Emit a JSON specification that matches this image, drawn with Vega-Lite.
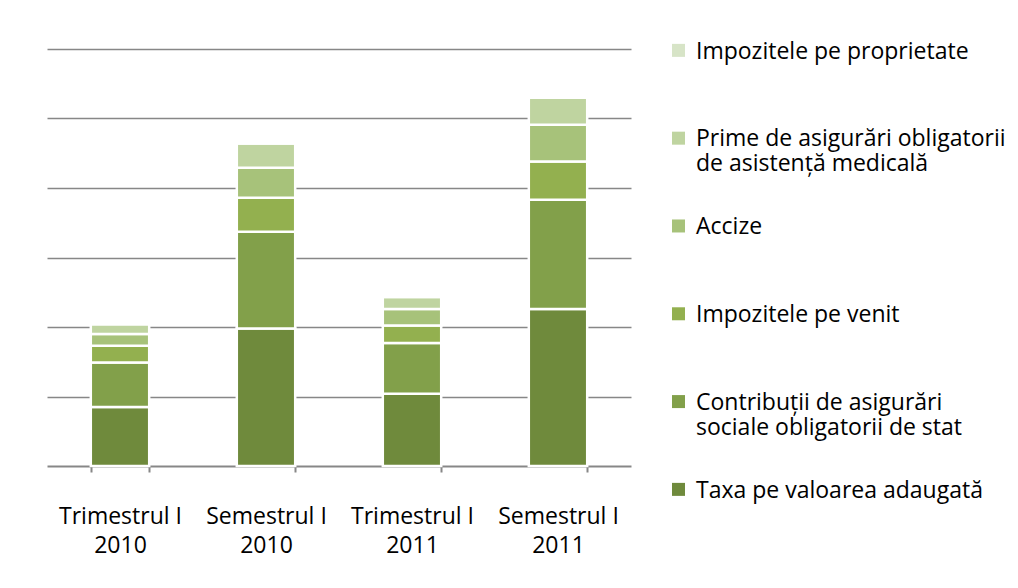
{
  "$schema": "https://vega.github.io/schema/vega-lite/v6.json",
  "width": 584,
  "height": 417,
  "autosize": {"type": "none"},
  "padding": {"left": 47, "top": 49, "right": 387, "bottom": 122},
  "background": "white",
  "data": {
    "values": [
      {"perioada": "Trimestrul I 2010", "categorie": "Taxa pe valoarea adaugată", "ordine": 1, "valoare": 0.85},
      {"perioada": "Trimestrul I 2010", "categorie": "Contribuții de asigurări sociale obligatorii de stat", "ordine": 2, "valoare": 0.64},
      {"perioada": "Trimestrul I 2010", "categorie": "Impozitele pe venit", "ordine": 3, "valoare": 0.24},
      {"perioada": "Trimestrul I 2010", "categorie": "Accize", "ordine": 4, "valoare": 0.17},
      {"perioada": "Trimestrul I 2010", "categorie": "Prime de asigurări obligatorii de asistență medicală", "ordine": 5, "valoare": 0.14},
      {"perioada": "Trimestrul I 2010", "categorie": "Impozitele pe proprietate", "ordine": 6, "valoare": 0.02},
      {"perioada": "Semestrul I 2010", "categorie": "Taxa pe valoarea adaugată", "ordine": 1, "valoare": 1.98},
      {"perioada": "Semestrul I 2010", "categorie": "Contribuții de asigurări sociale obligatorii de stat", "ordine": 2, "valoare": 1.39},
      {"perioada": "Semestrul I 2010", "categorie": "Impozitele pe venit", "ordine": 3, "valoare": 0.49},
      {"perioada": "Semestrul I 2010", "categorie": "Accize", "ordine": 4, "valoare": 0.43},
      {"perioada": "Semestrul I 2010", "categorie": "Prime de asigurări obligatorii de asistență medicală", "ordine": 5, "valoare": 0.35},
      {"perioada": "Semestrul I 2010", "categorie": "Impozitele pe proprietate", "ordine": 6, "valoare": 0.02},
      {"perioada": "Trimestrul I 2011", "categorie": "Taxa pe valoarea adaugată", "ordine": 1, "valoare": 1.04},
      {"perioada": "Trimestrul I 2011", "categorie": "Contribuții de asigurări sociale obligatorii de stat", "ordine": 2, "valoare": 0.73},
      {"perioada": "Trimestrul I 2011", "categorie": "Impozitele pe venit", "ordine": 3, "valoare": 0.25},
      {"perioada": "Trimestrul I 2011", "categorie": "Accize", "ordine": 4, "valoare": 0.24},
      {"perioada": "Trimestrul I 2011", "categorie": "Prime de asigurări obligatorii de asistență medicală", "ordine": 5, "valoare": 0.17},
      {"perioada": "Trimestrul I 2011", "categorie": "Impozitele pe proprietate", "ordine": 6, "valoare": 0.02},
      {"perioada": "Semestrul I 2011", "categorie": "Taxa pe valoarea adaugată", "ordine": 1, "valoare": 2.26},
      {"perioada": "Semestrul I 2011", "categorie": "Contribuții de asigurări sociale obligatorii de stat", "ordine": 2, "valoare": 1.57},
      {"perioada": "Semestrul I 2011", "categorie": "Impozitele pe venit", "ordine": 3, "valoare": 0.55},
      {"perioada": "Semestrul I 2011", "categorie": "Accize", "ordine": 4, "valoare": 0.53},
      {"perioada": "Semestrul I 2011", "categorie": "Prime de asigurări obligatorii de asistență medicală", "ordine": 5, "valoare": 0.39},
      {"perioada": "Semestrul I 2011", "categorie": "Impozitele pe proprietate", "ordine": 6, "valoare": 0.02}
    ]
  },
  "mark": {"type": "bar", "stroke": "white", "strokeWidth": 2.5},
  "encoding": {
    "x": {
      "field": "perioada",
      "type": "nominal",
      "sort": ["Trimestrul I 2010", "Semestrul I 2010", "Trimestrul I 2011", "Semestrul I 2011"],
      "scale": {"paddingInner": 0.6, "paddingOuter": 0.3},
      "axis": {
        "title": null,
        "labelAngle": 0,
        "labelExpr": "[slice(datum.label, 0, -5), slice(datum.label, -4)]",
        "labelFont": "Open Sans",
        "labelFontSize": 23,
        "labelColor": "black",
        "labelLineHeight": 29,
        "labelPadding": 33,
        "tickBand": "extent",
        "tickSize": 6,
        "tickColor": "#878787",
        "tickWidth": 2,
        "domainColor": "#878787",
        "domainWidth": 2
      }
    },
    "y": {
      "field": "valoare",
      "type": "quantitative",
      "stack": "zero",
      "scale": {"domain": [0, 6], "nice": false},
      "axis": {
        "title": null,
        "labels": false,
        "ticks": false,
        "domain": false,
        "values": [1, 2, 3, 4, 5, 6],
        "gridColor": "#878787",
        "gridWidth": 1.5
      }
    },
    "color": {
      "field": "categorie",
      "type": "nominal",
      "scale": {
        "domain": [
          "Impozitele pe proprietate",
          "Prime de asigurări obligatorii de asistență medicală",
          "Accize",
          "Impozitele pe venit",
          "Contribuții de asigurări sociale obligatorii de stat",
          "Taxa pe valoarea adaugată"
        ],
        "range": ["#d7e4c7", "#bfd4a0", "#a7c27a", "#93b04f", "#82a04a", "#6f8a3c"]
      },
      "legend": {
        "title": null,
        "orient": "none",
        "legendX": 620,
        "legendY": -2,
        "symbolType": "M-1,-2.25H1V-0.25H-1Z",
        "symbolSize": 169,
        "symbolStrokeWidth": 0,
        "labelFont": "Open Sans",
        "labelFontSize": 23,
        "labelColor": "black",
        "labelLimit": 400,
        "labelOffset": 6,
        "labelBaseline": "alphabetic",
        "labelLineHeight": 27,
        "gridAlign": "all",
        "rowPadding": 38.8,
        "labelExpr": "datum.label == 'Prime de asigurări obligatorii de asistență medicală' ? ['Prime de asigurări obligatorii', 'de asistență medicală'] : datum.label == 'Contribuții de asigurări sociale obligatorii de stat' ? ['Contribuții de asigurări', 'sociale obligatorii de stat'] : datum.label"
      }
    },
    "order": {"field": "ordine", "type": "quantitative"}
  },
  "config": {"view": {"stroke": null}}
}
